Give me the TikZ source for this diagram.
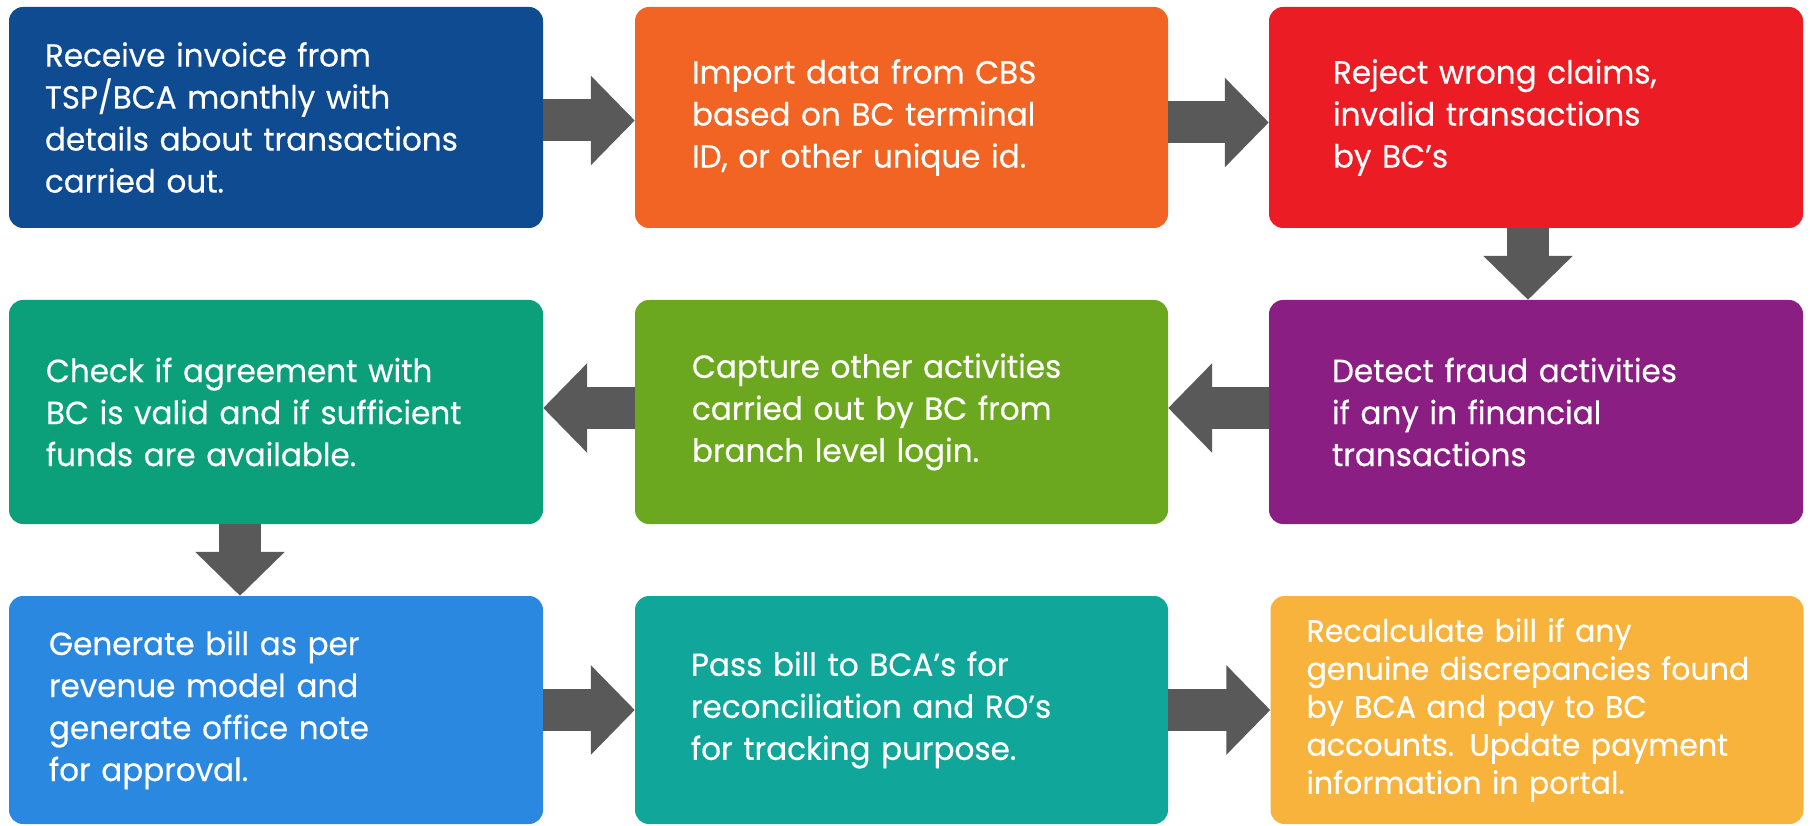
\documentclass[tikz,border=0pt]{standalone}
\usepackage{fontspec}
\setmainfont{Poppins}[FakeStretch=0.97,FakeBold=0.4]
\usetikzlibrary{arrows.meta}
\definecolor{cA}{HTML}{0E4B91}
\definecolor{cB}{HTML}{F26424}
\definecolor{cC}{HTML}{EC1C24}
\definecolor{cD}{HTML}{8A1E83}
\definecolor{cE}{HTML}{6BA81F}
\definecolor{cF}{HTML}{0BA07A}
\definecolor{cG}{HTML}{2A88E0}
\definecolor{cH}{HTML}{10A69A}
\definecolor{cI}{HTML}{F8B33C}
\definecolor{arrowgrey}{HTML}{595959}
\begin{document}
\begin{tikzpicture}[x=1pt,y=-1pt,
  box/.style={rectangle, rounded corners=14pt, text=white, align=left,
    font=\fontsize{32}{42}\selectfont, inner ysep=0pt},
  r1/.style={minimum height=221pt},
  r2/.style={minimum height=224pt},
  r3/.style={minimum height=228pt},
  flow/.style={line width=42pt, draw=arrowgrey, -{Triangle[length=44pt,width=87pt]}}]
\useasboundingbox[fill=white] (0,0) rectangle (1810,826);
% row 1
\node[box,r1,fill=cA,inner xsep=36pt,text width=462pt] (b1) at (276,117.5)
 {Receive invoice from\\TSP/BCA monthly with\\details about transactions\\carried out.};
\node[box,r1,fill=cB,inner xsep=57pt,text width=419pt] (b2) at (901.5,117.5)
 {Import data from CBS\\based on BC terminal\\ID, or other unique id.};
\node[box,r1,fill=cC,inner xsep=64pt,text width=406pt] (b3) at (1536,117.5)
 {Reject wrong claims,\\invalid transactions\\by BC’s};
% row 2
\node[box,r2,fill=cD,inner xsep=63pt,text width=408pt] (b4) at (1536,412)
 {Detect fraud activities\\if any in financial\\transactions};
\node[box,r2,fill=cE,inner xsep=57pt,text width=419pt] (b5) at (901.5,412)
 {Capture other activities\\carried out by BC from\\branch level login.};
\node[box,r2,fill=cF,inner xsep=37pt,text width=460pt] (b6) at (276,412)
 {Check if agreement with\\BC is valid and if sufficient\\funds are available.};
% row 3
\node[box,r3,fill=cG,inner xsep=40pt,text width=454pt] (b7) at (276,710)
 {Generate bill as per\\revenue model and\\generate office note\\for approval.};
\node[box,r3,fill=cH,inner xsep=56pt,text width=421pt] (b8) at (901.5,710)
 {Pass bill to BCA’s for\\reconciliation and RO’s\\for tracking purpose.};
\node[box,r3,fill=cI,inner xsep=36pt,text width=461pt,font=\fontsize{31}{38}\selectfont] (b9) at (1537,710)
 {Recalculate bill if any\\genuine discrepancies found\\by BCA and pay to BC\\accounts. Update payment\\information in portal.};
% connectors
\draw[flow] ([yshift=-3pt]b1.east) -- ([yshift=-3pt]b2.west);
\draw[flow] ([yshift=-5pt]b2.east) -- ([yshift=-5pt]b3.west);
\draw[flow] ([xshift=-8pt]b3.south) -- ([xshift=-8pt]b4.north);
\draw[flow] ([yshift=4pt]b4.west) -- ([yshift=4pt]b5.east);
\draw[flow] ([yshift=4pt]b5.west) -- ([yshift=4pt]b6.east);
\draw[flow] ([xshift=-36pt]b6.south) -- ([xshift=-36pt]b7.north);
\draw[flow] (b7.east) -- (b8.west);
\draw[flow] (b8.east) -- (b9.west);
\end{tikzpicture}
\end{document}
